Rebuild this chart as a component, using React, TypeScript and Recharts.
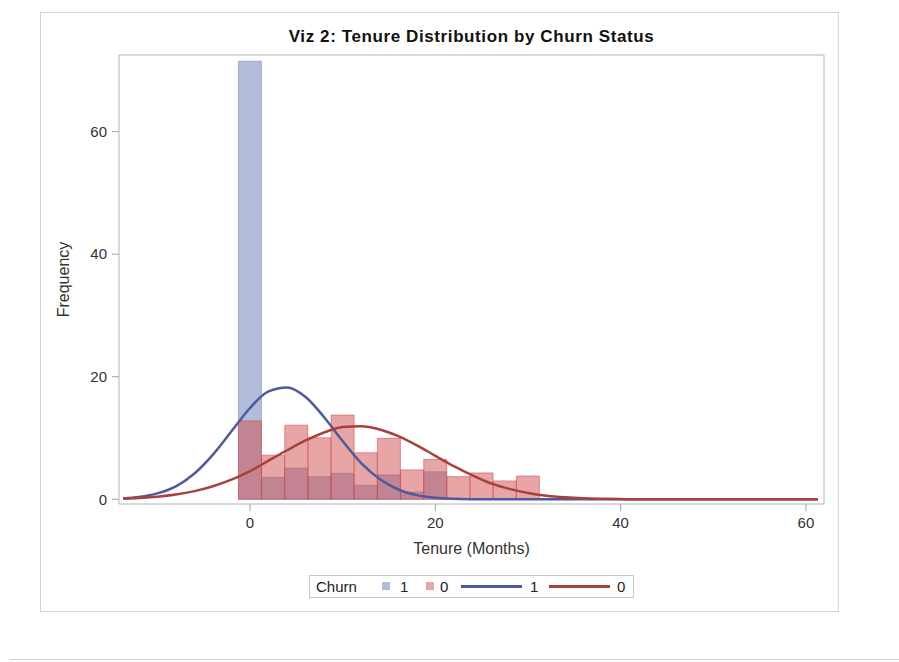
import React from "react";
import { ComposedChart, Bar, Line, XAxis, YAxis, ReferenceArea } from "recharts";

// histogram bins (bin width 2.5 months)
const binCenters = [0, 2.5, 5, 7.5, 10, 12.5, 15, 17.5, 20, 22.5, 25, 27.5, 30];
const churnYesCounts = [71.5, 3.6, 5.1, 3.7, 4.25, 2.3, 4.0, 1.2, 4.5, 0, 0, 0, 0];
const churnNoCounts = [12.8, 7.2, 12.1, 10.05, 13.75, 7.6, 9.95, 4.8, 6.5, 3.7, 4.3, 3.0, 3.8];

// fitted density curves
const curveX = [
  -13.7, -12, -10, -8, -6, -4, -2, 0, 2, 4, 6, 8, 10, 12, 14, 16, 18, 20, 22, 24,
  26, 28, 30, 32, 34, 36, 38, 40, 42, 44, 46, 48, 50, 52, 54, 56, 58, 60, 61.3,
];
const churnYesCurve = [
  0.15, 0.38, 0.96, 2.1, 4.2, 7.3, 11.1, 14.9, 17.6, 18.25, 16.7, 13.4, 9.5, 5.9, 3.3, 1.6, 0.68, 0.25, 0.08, 0.02,
  0, 0, 0, 0, 0, 0, 0, 0, 0, 0, 0, 0, 0, 0, 0, 0, 0, 0, 0,
];
const churnNoCurve = [
  0.12, 0.23, 0.43, 0.78, 1.33, 2.14, 3.2, 4.6, 6.3, 8.0, 9.6, 10.9, 11.8, 11.93, 11.4, 10.3, 8.8, 7.1, 5.4, 3.9,
  2.6, 1.7, 1.03, 0.59, 0.32, 0.16, 0.08, 0.03, 0, 0, 0, 0, 0, 0, 0, 0, 0, 0, 0,
];

const xTicks = [0, 20, 40, 60];
const yTicks = [0, 20, 40, 60];

const X_DOMAIN: [number, number] = [-14.14, 61.95];
const Y_DOMAIN: [number, number] = [-0.767, 72.5];

const BLUE = "#667ab7";
const RED = "#d24c4c";
const BLUE_LINE = "#4b5b9e";
const RED_LINE = "#a8413b";
const FONT = "'Liberation Sans', Arial, sans-serif";

const bins = binCenters.map((x, i) => ({ x, yes: churnYesCounts[i], no: churnNoCounts[i] }));
const curves = curveX.map((x, i) => ({ x, yes: churnYesCurve[i], no: churnNoCurve[i] }));

const tickStyle = { fill: "#333", fontSize: 15, fontFamily: FONT };

function Legend() {
  const txt: React.CSSProperties = { position: "absolute", top: 2, fontSize: 15, lineHeight: "17px", color: "#222" };
  const swatch = (left: number, c: string): React.CSSProperties => ({
    position: "absolute", left, top: 6, width: 8, height: 8,
    background: c, opacity: 0.5, boxSizing: "border-box",
  });
  const line = (left: number, c: string): React.CSSProperties => ({
    position: "absolute", left, top: 9, width: 61, height: 2.5, background: c,
  });
  return (
    <div
      style={{
        position: "absolute", left: 309, top: 575, width: 325, height: 23,
        border: "1px solid #c8c8c8", boxSizing: "border-box", fontFamily: FONT, background: "#fff",
      }}
    >
      <span style={{ ...txt, left: 6 }}>Churn</span>
      <span style={swatch(72, BLUE)} />
      <span style={{ ...txt, left: 90 }}>1</span>
      <span style={swatch(116, RED)} />
      <span style={{ ...txt, left: 130 }}>0</span>
      <span style={line(151, BLUE_LINE)} />
      <span style={{ ...txt, left: 220 }}>1</span>
      <span style={line(239, RED_LINE)} />
      <span style={{ ...txt, left: 307 }}>0</span>
    </div>
  );
}

export default function App() {
  return (
    <div style={{ position: "absolute", left: 0, top: 0, width: 899, height: 662, background: "#fff", fontFamily: FONT }}>
      <div
        style={{
          position: "absolute", left: 40, top: 12, width: 799, height: 600,
          border: "1px solid #d6d6d6", boxSizing: "border-box",
        }}
      />
      <div style={{ position: "absolute", left: 10, top: 659, width: 889, height: 1, background: "#d0d0d0" }} />
      <div
        style={{
          position: "absolute", left: 119, top: 27, width: 705, textAlign: "center",
          fontWeight: "bold", fontSize: 17, letterSpacing: 0.6, color: "#111",
        }}
      >
        Viz 2: Tenure Distribution by Churn Status
      </div>
      <div style={{ position: "absolute", left: 0, top: 0 }}>
        <ComposedChart
          width={899}
          height={662}
          data={bins}
          margin={{ top: 55, right: 75, bottom: 118, left: 40 }}
          barCategoryGap={0}
          barGap={0}
          style={{ fontFamily: FONT }}
        >
          <XAxis
            xAxisId="a"
            type="number"
            dataKey="x"
            domain={X_DOMAIN}
            allowDataOverflow
            ticks={xTicks}
            height={40}
            axisLine={false}
            tickSize={7}
            tickMargin={6}
            tickLine={{ stroke: "#a0a0a0" }}
            tick={tickStyle}
            label={{ value: "Tenure (Months)", position: "bottom", offset: -1, fill: "#333", fontSize: 16 }}
          />
          <XAxis xAxisId="b" type="number" dataKey="x" domain={X_DOMAIN} allowDataOverflow hide />
          <XAxis xAxisId="c" type="number" dataKey="x" domain={X_DOMAIN} allowDataOverflow hide />
          <YAxis
            type="number"
            domain={Y_DOMAIN}
            allowDataOverflow
            ticks={yTicks}
            width={79}
            axisLine={false}
            tickSize={7}
            tickMargin={5}
            tickLine={{ stroke: "#a0a0a0" }}
            tick={tickStyle}
            label={{
              value: "Frequency", angle: -90, position: "insideLeft", offset: 23,
              style: { textAnchor: "middle", fill: "#333", fontSize: 16 },
            }}
          />
          <ReferenceArea
            xAxisId="a"
            x1={X_DOMAIN[0]}
            x2={X_DOMAIN[1]}
            y1={Y_DOMAIN[0]}
            y2={Y_DOMAIN[1]}
            fill="none"
            stroke="#b4b4b4"
            ifOverflow="visible"
          />
          <Bar
            xAxisId="a"
            dataKey="yes"
            fill={BLUE}
            fillOpacity={0.5}
            stroke={BLUE}
            strokeOpacity={0.45}
            isAnimationActive={false}
          />
          <Bar
            xAxisId="b"
            dataKey="no"
            fill={RED}
            fillOpacity={0.5}
            stroke={RED}
            strokeOpacity={0.55}
            isAnimationActive={false}
          />
          <Line
            xAxisId="c"
            data={curves}
            dataKey="yes"
            type="monotone"
            stroke={BLUE_LINE}
            strokeWidth={2.5}
            dot={false}
            activeDot={false}
            isAnimationActive={false}
          />
          <Line
            xAxisId="c"
            data={curves}
            dataKey="no"
            type="monotone"
            stroke={RED_LINE}
            strokeWidth={2.5}
            dot={false}
            activeDot={false}
            isAnimationActive={false}
          />
        </ComposedChart>
      </div>
      <Legend />
    </div>
  );
}
